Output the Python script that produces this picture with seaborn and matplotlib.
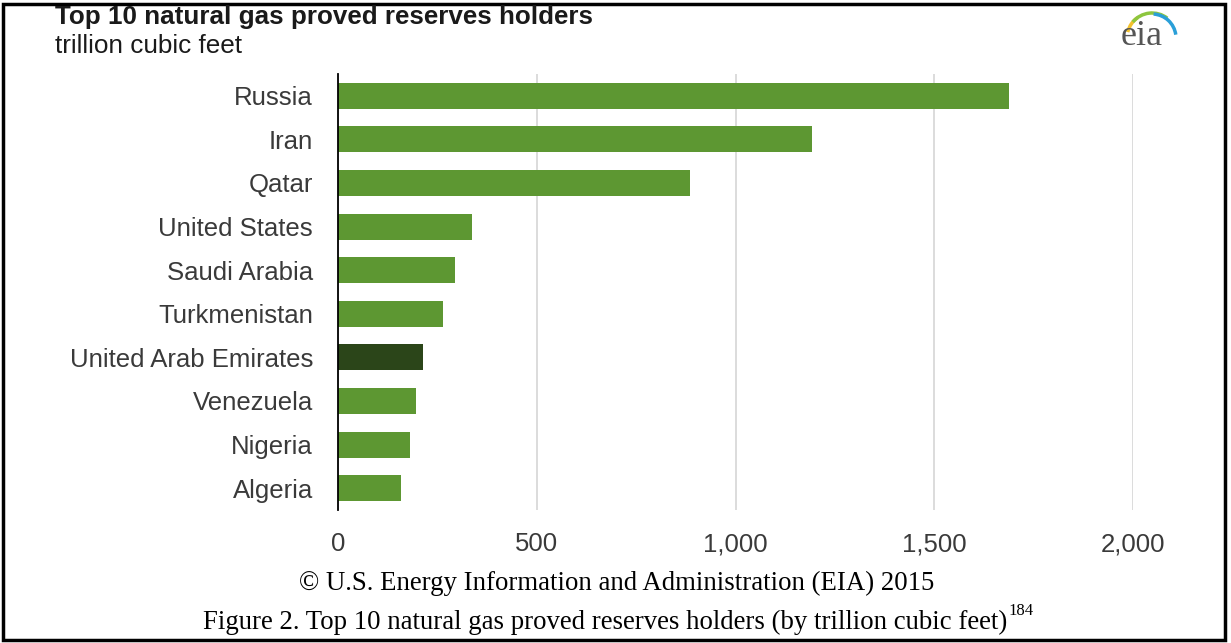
import matplotlib
matplotlib.use("Agg")
import matplotlib.pyplot as plt
import seaborn as sns
import pandas as pd
from matplotlib.patches import Rectangle, Arc

countries = ["Russia", "Iran", "Qatar", "United States", "Saudi Arabia",
             "Turkmenistan", "United Arab Emirates", "Venezuela", "Nigeria", "Algeria"]
reserves = [1688, 1193, 885, 338, 294, 265, 215, 197, 180, 159]
bar_colors = ["#5d9732", "#5d9732", "#5d9732", "#5d9732", "#5d9732",
              "#5d9732", "#2b4519", "#5d9732", "#5d9732", "#5d9732"]
x_ticks = [0, 500, 1000, 1500, 2000]
x_tick_labels = ["0", "500", "1,000", "1,500", "2,000"]

sns.set_theme(style="white")
plt.rcParams["font.family"] = ["Liberation Sans", "DejaVu Sans"]

df = pd.DataFrame({"country": countries, "value": reserves})

W, H = 1231, 643
fig = plt.figure(figsize=(W / 100, H / 100), dpi=100)
ax = fig.add_axes([338 / W, 1 - 510 / H, (1133 - 338) / W, (510 - 74) / H])

sns.barplot(data=df, y="country", x="value", hue="country", palette=bar_colors,
            legend=False, width=0.6, ax=ax, orient="h", saturation=1,
            edgecolor="none", zorder=3)

ax.set_xlim(0, 2000)
ax.set_ylim(9.5, -0.5)
ax.set_xticks(x_ticks)
ax.set_xticklabels(x_tick_labels)
ax.xaxis.grid(True, color="#d9d9d9", lw=1.3, zorder=0)
ax.yaxis.grid(False)
ax.set_axisbelow(True)
for s in ["top", "right", "bottom"]:
    ax.spines[s].set_visible(False)
ax.spines["left"].set_color("black")
ax.spines["left"].set_linewidth(1.3)
ax.spines["left"].set_zorder(5)
ax.tick_params(axis="both", length=0)
ax.tick_params(axis="y", pad=18, labelsize=18.5, labelcolor="#3a3a3a")
ax.tick_params(axis="x", pad=16, labelsize=18.5, labelcolor="#3a3a3a")
ax.set_xlabel("")
ax.set_ylabel("")

fig.text(55 / W, 1 - 17 / H, "Top 10 natural gas proved reserves holders",
         fontsize=18.7, fontweight="bold", color="#1a1a1a", va="center", ha="left")
fig.text(55 / W, 1 - 46 / H, "trillion cubic feet",
         fontsize=18.8, color="#1a1a1a", va="center", ha="left")

# eia logo
serif = ["Liberation Serif", "DejaVu Serif"]
fig.text(1142 / W, 1 - 45 / H, "eia", family=serif,
         fontsize=26, color="#555555", ha="center", va="baseline")
for (t1, t2, col, r) in [(110, 155, "#f2c12e", 25), (68, 122, "#8dc63f", 25),
                         (15, 88, "#2a9fd8", 24)]:
    arc = Arc((1152 / W, 1 - 38 / H), 2 * r / W, 2 * r / H,
              theta1=t1, theta2=t2, color=col, lw=2.5, transform=fig.transFigure)
    fig.add_artist(arc)

fig.text(617 / W, 1 - 583 / H,
         "\u00a9 U.S. Energy Information and Administration (EIA) 2015",
         family=serif, fontsize=19.3, color="black", ha="center", va="center")
line2 = fig.text(203 / W, 1 - 622 / H,
                 "Figure 2. Top 10 natural gas proved reserves holders (by trillion cubic feet)",
                 family=serif, fontsize=19.3, color="black", ha="left", va="center")
fig.canvas.draw()
bb = line2.get_window_extent()
fig.text(bb.x1 / W + 1 / W, 1 - 611 / H, "184", family=serif, fontsize=12,
         color="black", ha="left", va="center")

fig.add_artist(Rectangle((3 / W, 3 / H), 1222 / W, 636 / H,
                         fill=False, edgecolor="black", lw=2.5,
                         transform=fig.transFigure))

fig.savefig("out.png", dpi=100)
